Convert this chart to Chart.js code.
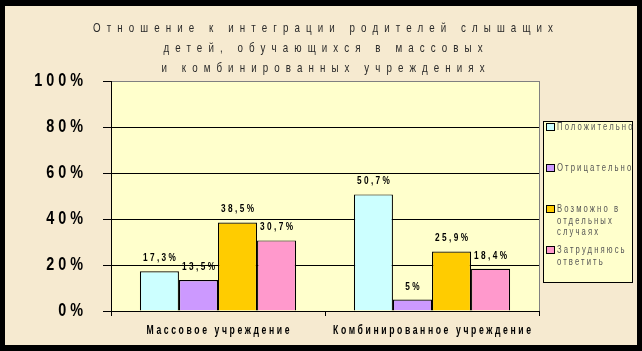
<!DOCTYPE html>
<html>
<head>
<meta charset="utf-8">
<script src="https://cdn.jsdelivr.net/npm/chart.js@4"></script>
<style>
  html, body { margin: 0; padding: 0; background: #000; }
  #frame { position: absolute; left: 5px; top: 6px; width: 632px; height: 339px; background: #f6ead0; }
  canvas { display: block; }
</style>
</head>
<body>
<div id="frame"><canvas id="chart" width="632" height="339"></canvas></div>
<script>
// Chart data
const titleLines = [
    'Отношение к интеграции родителей слышащих',
    'детей, обучающихся в массовых',
    'и комбинированных учреждениях'
];
const categories = ['Массовое учреждение', 'Комбинированное учреждение'];
const seriesNames = [
    ['Положительно'],
    ['Отрицательно'],
    ['Возможно в', 'отдельных', 'случаях'],
    ['Затрудняюсь', 'ответить']
];
const positive = [17.3, 50.7];
const negative = [13.5, 5];
const possible = [38.5, 25.9];
const undecided = [30.7, 18.4];
const seriesColors = ['#ccffff', '#cc99ff', '#ffcc00', '#ff99cc'];

// no narrow font installed, so text is squeezed horizontally instead
const FAMILY = '"Liberation Sans", Arial, sans-serif';

function fmt(v) {
    return String(v).replace('.', ',') + '%';
}

// Run fn with fillText squeezed to sx and letters spaced by `spacing` px
function narrowText(ctx, sx, spacing, fn) {
    const orig = CanvasRenderingContext2D.prototype.fillText;
    ctx.save();
    ctx.letterSpacing = (spacing / sx) + 'px';
    ctx.fillText = function(t, x, y, mw) {
        // trailing spacing shifts aligned text, put it back
        let shift = 0;
        if (this.textAlign === 'center') shift = spacing / 2;
        else if (this.textAlign === 'right') shift = spacing;
        this.save();
        this.translate(x + shift, y);
        this.scale(sx, 1);
        orig.call(this, t, 0, 0);
        this.restore();
    };
    try {
        fn();
    } finally {
        delete ctx.fillText;
        ctx.restore();
    }
}

function squeezeLabels(scale, sx, px) {
    if (!scale || scale._squeezed) return;
    const orig = scale.drawLabels.bind(scale);
    scale.drawLabels = function(area) {
        narrowText(this.ctx, sx, px, () => orig(area));
    };
    scale._squeezed = true;
}

const decorPlugin = {
    id: 'decor',
    beforeDraw(chart) {
        squeezeLabels(chart.scales.x, 0.72, 2.6);
        squeezeLabels(chart.scales.y, 0.8, 4);
        const ctx = chart.ctx;
        const a = chart.chartArea;
        ctx.save();
        ctx.fillStyle = '#ffffcc';
        ctx.fillRect(a.left, a.top, a.right - a.left, a.bottom - a.top);
        ctx.strokeStyle = '#808080';
        ctx.lineWidth = 1;
        ctx.strokeRect(Math.round(a.left) + 0.5, Math.round(a.top) + 0.5, Math.round(a.right - a.left), Math.round(a.bottom - a.top));

        // title
        ctx.fillStyle = '#2a2a2a';
        ctx.font = '13px ' + FAMILY;
        ctx.textAlign = 'center';
        ctx.textBaseline = 'middle';
        narrowText(ctx, 0.75, 6.1, () => {
            titleLines.forEach((line, i) => {
                ctx.fillText(line, 318, 22 + i * 20);
            });
        });

        // legend
        const lx = a.right + 4, ly = 115, lw = 89, lh = 161;
        ctx.fillStyle = '#ffffcc';
        ctx.fillRect(lx, ly, lw, lh);
        ctx.strokeStyle = '#000';
        ctx.strokeRect(Math.round(lx) + 0.5, ly + 0.5, lw, lh);
        ctx.font = '11px ' + FAMILY;
        ctx.textAlign = 'left';
        chart.data.datasets.forEach((ds, i) => {
            const y = ly + 6 + i * 41;
            ctx.fillStyle = ds.backgroundColor;
            ctx.fillRect(lx + 3.5, y - 3.5, 8, 7);
            ctx.strokeStyle = '#000';
            ctx.strokeRect(lx + 3.5, y - 3.5, 8, 7);
            ctx.fillStyle = '#555555';
            narrowText(ctx, 0.7, 2.1, () => {
                ds.label.forEach((line, j) => {
                    ctx.fillText(line, lx + 14, y + j * 11.5);
                });
            });
        });
        ctx.restore();
    },
    afterDatasetsDraw(chart) {
        // value labels above bars
        const ctx = chart.ctx;
        ctx.save();
        ctx.font = 'bold 11px ' + FAMILY;
        ctx.fillStyle = '#000';
        ctx.textAlign = 'center';
        ctx.textBaseline = 'middle';
        narrowText(ctx, 0.75, 2.4, () => {
            chart.data.datasets.forEach((ds, i) => {
                chart.getDatasetMeta(i).data.forEach((bar, j) => {
                    ctx.fillText(fmt(ds.data[j]), bar.x, bar.y - 13);
                });
            });
        });
        ctx.restore();
    }
};

const seriesData = [positive, negative, possible, undecided];

new Chart(document.getElementById('chart'), {
    type: 'bar',
    data: {
        labels: categories,
        datasets: seriesData.map((d, i) => ({
            label: seriesNames[i],
            data: d,
            backgroundColor: seriesColors[i],
            borderColor: '#000',
            borderWidth: 1.2,
            categoryPercentage: 0.73,
            barPercentage: 1
        }))
    },
    options: {
        responsive: false,
        animation: false,
        layout: { padding: { top: 75, right: 98, left: 0, bottom: 0 } },
        plugins: {
            legend: { display: false },
            tooltip: { enabled: false }
        },
        scales: {
            x: {
                grid: { drawOnChartArea: false, color: '#000', tickLength: 5, offset: true },
                border: { color: '#000', width: 1 },
                ticks: {
                    color: '#000',
                    font: { family: FAMILY, size: 12, weight: 'bold' },
                    padding: 7,
                    maxRotation: 0,
                    autoSkip: false
                },
                afterFit(scale) { scale.height = 34; }
            },
            y: {
                min: 0,
                max: 100,
                grid: {
                    color: (c) => c.tick && c.tick.value === 100 ? '#808080' : '#000',
                    tickColor: '#000',
                    tickLength: 8
                },
                border: { color: '#000', width: 1 },
                ticks: {
                    stepSize: 20,
                    color: '#000',
                    font: { family: FAMILY, size: 18, weight: 'bold' },
                    padding: 20,
                    callback: (v) => v + '%'
                },
                afterFit(scale) { scale.width = 106; }
            }
        }
    },
    plugins: [decorPlugin]
});
</script>
</body>
</html>
